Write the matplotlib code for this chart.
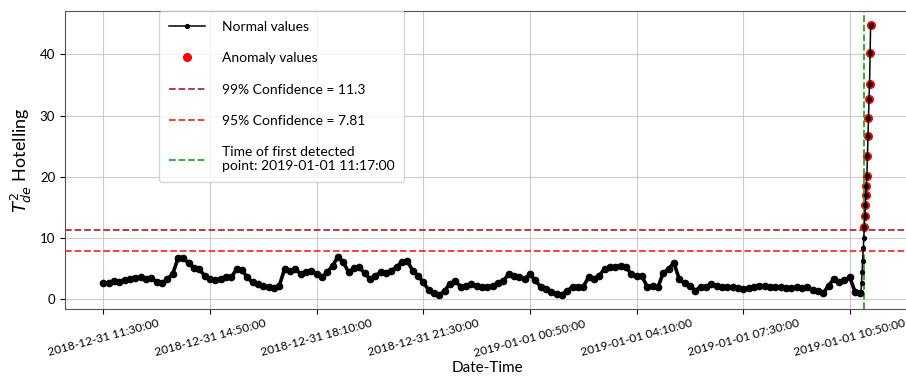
import numpy as np
import pandas as pd
import matplotlib
matplotlib.use("Agg")
import matplotlib.pyplot as plt
import matplotlib.dates as mdates
from matplotlib.lines import Line2D

plt.rcParams['font.family'] = ['Lato', 'DejaVu Sans']

# T^2 values read every 10 minutes, 2018-12-31 11:30 -> 2019-01-01 11:10
normal_10min = [
    2.6, 2.55, 2.9, 2.8, 3.15, 3.25, 3.4, 3.5, 3.2, 3.35, 2.8, 2.55, 3.25, 4.05, 6.6,
    6.7, 5.8, 5.05, 4.8, 3.8, 3.25, 3.0, 3.25, 3.5, 3.5, 4.9, 4.7, 3.5, 2.7, 2.4,
    2.15, 1.9, 1.8, 2.15, 4.9, 4.6, 4.9, 4.05, 4.35, 4.6, 4.05, 3.5, 4.35, 5.4, 6.9,
    6.0, 4.35, 5.05, 5.15, 4.2, 3.25, 3.8, 4.35, 4.2, 4.6, 5.25, 6.0, 6.25, 4.6,
    3.8, 2.7, 1.45, 0.9, 0.55, 1.35, 2.45, 2.9, 2.0, 2.15, 2.45, 2.15, 2.0, 2.0, 2.15,
    2.55, 2.9, 4.05, 3.8, 3.5, 3.25, 4.05, 3.0, 2.0, 1.6, 1.1, 0.8, 0.7, 1.35,
    1.9, 1.9, 2.0, 3.5, 3.25, 3.8, 4.9, 5.15, 5.25, 5.4, 5.25, 4.05, 3.7, 3.7, 2.0,
    2.15, 1.9, 4.2, 4.9, 5.9, 3.25, 2.55, 2.15, 1.35, 1.9, 1.9, 2.45, 2.15, 1.9, 1.9,
    1.9, 1.8, 1.6, 1.8, 1.9, 2.05, 2.05, 2.0, 1.9, 1.9, 1.8, 1.8, 1.9, 1.8, 1.9,
    1.45, 1.25, 0.9, 2.15, 3.25, 2.7, 3.0, 3.5, 1.1, 0.9,
]
# per minute, 11:11 -> 11:16
rise_1min = [1.1, 2.6, 4.4, 6.2, 8.3, 10.0]
# per minute, 11:17 -> 11:29 (flagged as anomalies)
anomaly_1min = [11.7, 13.5, 15.3, 17.0, 18.5, 20.1, 23.4, 26.6, 29.6, 32.7, 35.2, 40.2, 44.9]

conf99 = 11.3
conf95 = 7.81
first_detect = "2019-01-01 11:17:00"

t_normal = pd.date_range("2018-12-31 11:30", "2019-01-01 11:10", freq="10min")
t_rise = pd.date_range("2019-01-01 11:11", periods=len(rise_1min), freq="1min")
t_anom = pd.date_range("2019-01-01 11:17", periods=len(anomaly_1min), freq="1min")

times = t_normal.append(t_rise).append(t_anom)
values = np.array(normal_10min + rise_1min + anomaly_1min)

tick_times = pd.date_range("2018-12-31 11:30", "2019-01-01 10:50", freq="200min")

fig = plt.figure(figsize=(9.06, 3.79), dpi=100)
ax = fig.add_axes([0.0717, 0.1847, 0.9316, 0.7863])

ax.plot(t_anom, anomaly_1min, "o", color="red", markersize=5.5, zorder=2)
# dense part of the series drawn as a heavy band
ax.plot(t_normal, normal_10min, "-", color="black", marker="o", markersize=4.5,
        linewidth=2.6, zorder=3)
ax.plot(times, values, "-", color="black", marker="o", markersize=2.8, linewidth=1.1, zorder=4)
ax.axhline(conf99, color="#b03030", linestyle="--", linewidth=1.3)
ax.axhline(conf95, color="#ff3030", linestyle="--", linewidth=1.3)
ax.axvline(pd.Timestamp(first_detect), color="#2ca02c", linestyle="--", linewidth=1.3)

ax.set_xticks(tick_times)
ax.xaxis.set_major_formatter(mdates.DateFormatter("%Y-%m-%d %H:%M:%S"))
plt.setp(ax.get_xticklabels(), rotation=15, ha="center", fontsize=8.6)
plt.setp(ax.get_yticklabels(), fontsize=9.5)
ax.tick_params(axis="x", pad=3)
ax.grid(True, color="#cccccc", linewidth=0.8)
for s in ax.spines.values():
    s.set_color("#555555")

ax.set_xlabel("Date-Time", fontsize=11, labelpad=2)
ax.set_ylabel(r"$T^2_{de}$ Hotelling", fontsize=13)

handles = [
    Line2D([], [], color="black", marker="o", markersize=2.8, linewidth=1.1),
    Line2D([], [], color="red", marker="o", markersize=5.5, linestyle="none"),
    Line2D([], [], color="#b03030", linestyle="--", linewidth=1.3),
    Line2D([], [], color="#ff3030", linestyle="--", linewidth=1.3),
    Line2D([], [], color="#2ca02c", linestyle="--", linewidth=1.3),
]
labels = [
    "Normal values",
    "Anomaly values",
    "99%% Confidence = %s" % conf99,
    "95%% Confidence = %s" % conf95,
    "Time of first detected\npoint: %s" % first_detect,
]
ax.legend(handles, labels, loc="upper left", bbox_to_anchor=(0.112, 1.0),
          borderaxespad=0.0, fontsize=10, labelspacing=1.4,
          handlelength=2.6, borderpad=0.7, handletextpad=1.2)

fig.savefig("out.png", dpi=100)
